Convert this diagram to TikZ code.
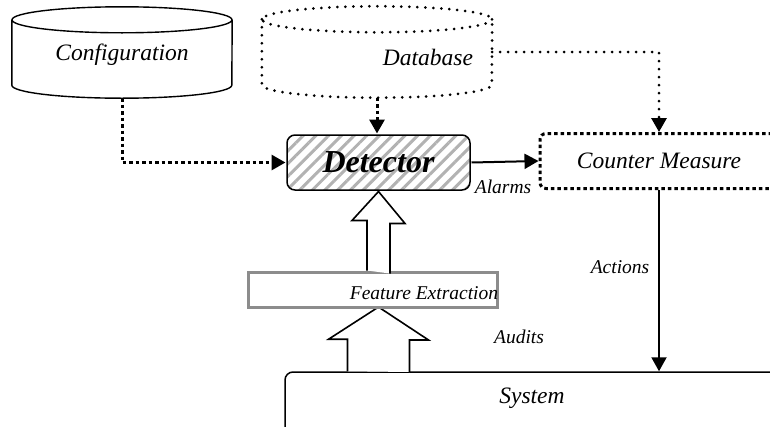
\documentclass[tikz,border=0pt]{standalone}
\usepackage{fontspec}
\setmainfont{Liberation Serif}
\usetikzlibrary{arrows.meta,patterns.meta,calc}
\begin{document}
\begin{tikzpicture}[x=1pt,y=-1pt,
    bigtxt/.style={font=\fontsize{23.5}{26}\selectfont\itshape},
    smalltxt/.style={font=\fontsize{19.5}{22}\selectfont\itshape},
    store/.style={minimum width=220pt,minimum height=91pt,inner sep=0pt},
    dotline/.style={line width=3pt,dash pattern=on 3.5pt off 3pt},
    rounddots/.style={line width=3pt,dash pattern=on 0pt off 8pt,line cap=round},
    tip/.style={-{Triangle[length=14pt,width=15pt]}},
    hollow/.style={draw,fill=white,line width=1.6pt,line join=miter}]
  \useasboundingbox (0,0) rectangle (770,426);
  % stores
  \node[store] (config) at (122,52.5) {};
  \draw[line width=1.4pt] ($(config.north west)+(0,13)$) -- ($(config.south west)+(0,-13)$)
      arc[start angle=180,end angle=0,x radius=110,y radius=13] -- ($(config.north east)+(0,13)$)
      ($(config.north)+(0,13)$) ellipse[x radius=110,y radius=13];
  \node[bigtxt] at (122,55) {Configuration};
  \node[store,minimum width=230pt] (db) at (377,52) {};
  \draw[rounddots] ($(db.north west)+(0,13)$) -- ($(db.south west)+(0,-13)$)
      arc[start angle=180,end angle=0,x radius=115,y radius=13] -- ($(db.north east)+(0,13)$)
      ($(db.north)+(0,13)$) ellipse[x radius=115,y radius=13];
  \node[bigtxt] at (428,57) {Database};
  % blocks
  \node[draw,line width=1.5pt,rounded corners=8pt,minimum width=183pt,minimum height=55pt,inner sep=0pt,
        preaction={fill=white},pattern={Lines[angle=45,distance=9pt,line width=3pt]},pattern color=black!30,
        font=\fontsize{32}{34}\selectfont\bfseries\itshape] (det) at (378.5,162.5) {Detector};
  \node[draw,dotline,rounded corners=6pt,minimum width=238pt,minimum height=55pt,inner sep=0pt,bigtxt] (cm) at (659,161) {Counter Measure};
  \node[draw,line width=1.5pt,rounded corners=8pt,minimum width=495pt,minimum height=80pt,inner sep=0pt] (sys) at (532.5,412) {};
  \node[bigtxt] at (532,398) {System};
  % wide arrows
  \filldraw[hollow] (det.south |- sys.north) ++(-31,0) -- ++(0,-32) -- ++(-19,0) -- (det.south |- 0,307)
      -- ++(50,33) -- ++(-19,0) -- ++(0,32);
  \node[draw=black!45,line width=3pt,fill=white,minimum width=249pt,minimum height=35pt,inner sep=0pt] (fe) at (372.5,289.5) {};
  \node[smalltxt] at (424,293) {Feature Extraction};
  \filldraw[hollow] (det.south |- fe.north) ++(-11.5,0) -- ++(0,-50) -- ++(-15,0) -- (det.south)
      -- ++(26.5,32) -- ++(-15,0) -- ++(0,50);
  % links
  \draw[dotline,tip] (config.south) |- (det.west);
  \draw[dotline,tip] (db.south) -- (db.south |- det.north);
  \draw[rounddots,tip] (db.east) -| (cm.north);
  \draw[line width=2pt,tip] (det.east) -- (cm.west);
  \draw[line width=2pt,tip] (cm.south) -- (cm.south |- sys.north);
  \node[smalltxt] at (503,187) {Alarms};
  \node[smalltxt] at (620,267) {Actions};
  \node[smalltxt] at (519,337) {Audits};
\end{tikzpicture}
\end{document}
